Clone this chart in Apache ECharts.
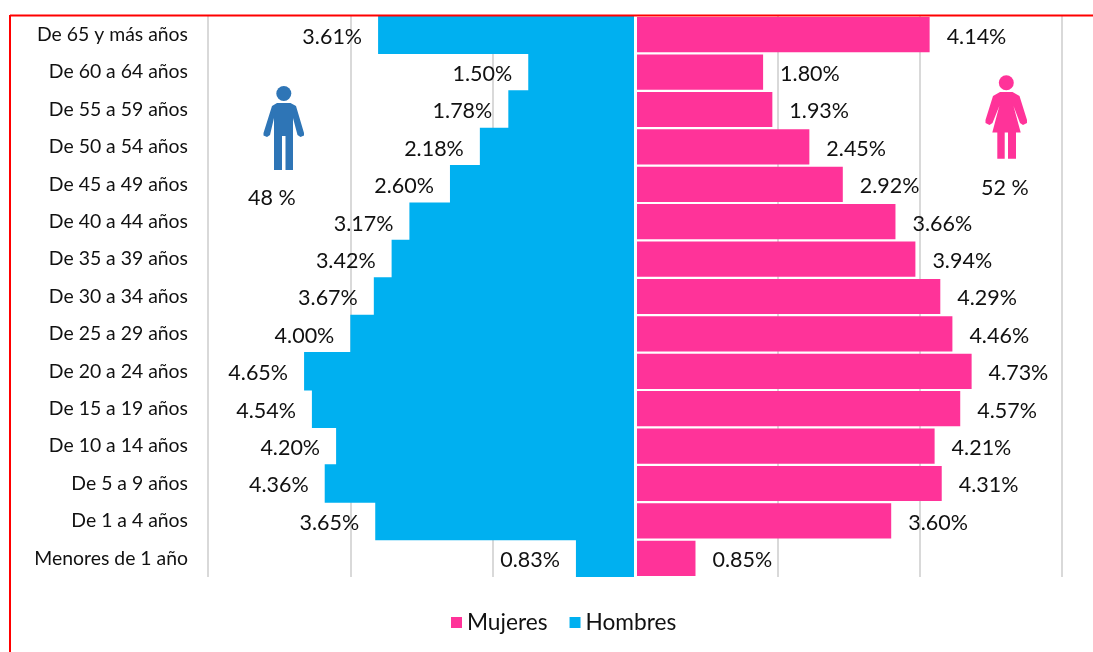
<!DOCTYPE html>
<html><head><meta charset="utf-8">
<style>html,body{margin:0;padding:0;background:#fff}#c{width:1093px;height:652px}</style>
<script src="https://cdn.jsdelivr.net/npm/echarts@6/dist/echarts.min.js"></script>
</head><body><div id="c"></div>
<script>
const categories = ['De 65 y más años','De 60 a 64 años','De 55 a 59 años','De 50 a 54 años','De 45 a 49 años','De 40 a 44 años','De 35 a 39 años','De 30 a 34 años','De 25 a 29 años','De 20 a 24 años','De 15 a 19 años','De 10 a 14 años','De 5 a 9 años','De 1 a 4 años','Menores de 1 año'];
const hombres = [3.61,1.50,1.78,2.18,2.60,3.17,3.42,3.67,4.00,4.65,4.54,4.20,4.36,3.65,0.83];
const mujeres = [4.14,1.80,1.93,2.45,2.92,3.66,3.94,4.29,4.46,4.73,4.57,4.21,4.31,3.60,0.85];
const PINK = '#ff3399', BLUE = '#00b0f0', MAN = '#2e75b6';
const FONT = 'Lato';
const TEXT = '#111111';
const fmt = p => Math.abs(p.value).toFixed(2) + '%';
const chart = echarts.init(document.getElementById('c'), null, {renderer:'canvas'});
const yBase = {type:'category', inverse:true, data:categories, axisTick:{show:false}, axisLine:{show:false}};
const manBody = [[277,103],[290.5,103],[296,106],[304,133],[304,135.5],[300.5,137],[297.5,135],[293,118],[293,170],[285.5,170],[285.5,136],[282,136],[282,170],[274,170],[274,118],[270,135],[267,137],[263.5,135.5],[263.5,133],[272,106]];
const womanBody = [[1000,92],[1012.5,92],[1019.5,96],[1027,120],[1027,123],[1023,125],[1020,123],[1013.5,106],[1020.7,132.5],[1016,132.5],[1016,158.7],[1008,158.7],[1008,132.5],[1004.7,132.5],[1004.7,158.7],[997.3,158.7],[997.3,132.5],[992.3,132.5],[999.3,106],[992.5,123],[989.5,125],[985.5,123],[985.5,120],[993,96]];
chart.setOption({
  backgroundColor:'#fff',
  animation:false,
  textStyle:{fontFamily:FONT},
  grid:{left:208,right:31,top:16,height:561,containLabel:false},
  legend:{data:['Mujeres','Hombres'],left:446,top:606,itemWidth:11,itemHeight:11,itemGap:22,icon:'rect',
    textStyle:{fontFamily:FONT,fontSize:22.7,color:TEXT,padding:[0,0,0,0]}},
  xAxis:{type:'value',min:-6,max:6,interval:2,axisLabel:{show:false},axisLine:{show:false},axisTick:{show:false},
    splitLine:{show:true,lineStyle:{color:'#d9d9d9',width:2}}},
  yAxis:[
    Object.assign({},yBase,{position:'left',axisLabel:{margin:20,fontFamily:FONT,fontSize:19.4,color:TEXT,interval:0,padding:[2,0,0,0]}}),
    Object.assign({},yBase,{position:'left',axisLabel:{show:false}})
  ],
  series:[
    {name:'Hombres',type:'bar',yAxisIndex:0,barWidth:'103%',data:hombres.map(v=>-v),
      itemStyle:{color:BLUE},
      label:{show:true,position:'left',distance:16,offset:[0,2],formatter:fmt,fontFamily:FONT,fontSize:21.5,color:TEXT},
      markLine:{silent:true,symbol:'none',label:{show:false},z:5,lineStyle:{color:'#fff',width:3,type:'solid'},data:[{xAxis:0}]}},
    {name:'Mujeres',type:'bar',yAxisIndex:1,barWidth:'94%',data:mujeres,
      itemStyle:{color:PINK},
      label:{show:true,position:'right',distance:17,offset:[0,2],formatter:fmt,fontFamily:FONT,fontSize:21.5,color:TEXT}}
  ],
  graphic:[
    {type:'line',silent:true,shape:{x1:10,y1:15.5,x2:1093,y2:15.5},style:{stroke:'#ff0000',lineWidth:2},z:10},
    {type:'line',silent:true,shape:{x1:10,y1:15,x2:10,y2:652},style:{stroke:'#ff0000',lineWidth:2},z:10},
    {type:'circle',silent:true,shape:{cx:283.8,cy:93.5,r:7.5},style:{fill:MAN},z:10},
    {type:'polygon',silent:true,shape:{points:manBody},style:{fill:MAN},z:10},
    {type:'circle',silent:true,shape:{cx:1006.3,cy:82.7,r:7.5},style:{fill:PINK},z:10},
    {type:'polygon',silent:true,shape:{points:womanBody},style:{fill:PINK},z:10},
    {type:'text',silent:true,x:248,y:187,style:{text:'48 %',fontFamily:FONT,fontSize:21.5,fill:TEXT},z:10},
    {type:'text',silent:true,x:981,y:177,style:{text:'52 %',fontFamily:FONT,fontSize:21.5,fill:TEXT},z:10}
  ]
});
</script></body></html>
